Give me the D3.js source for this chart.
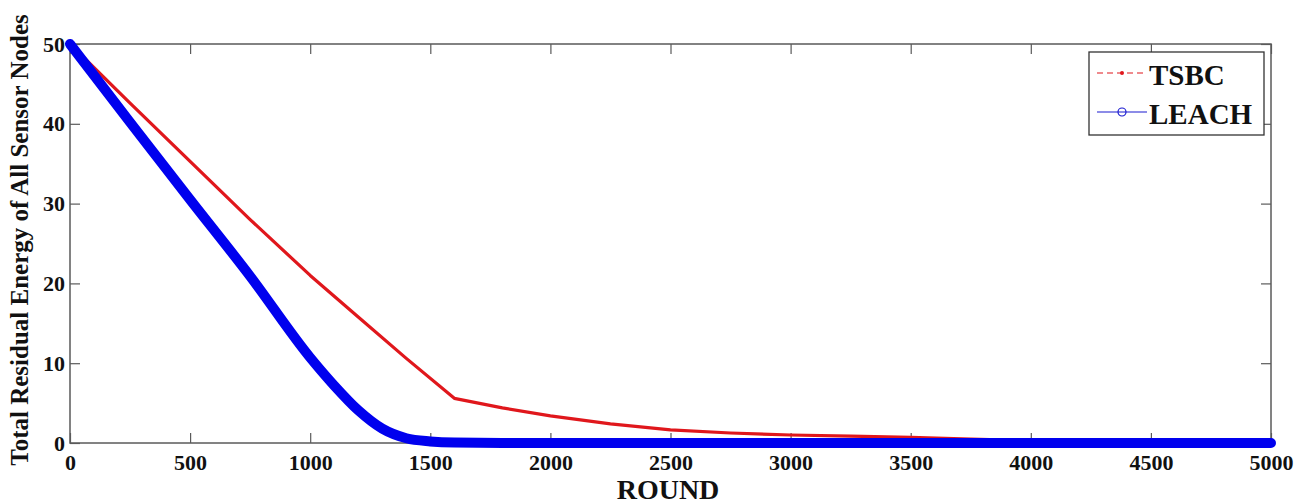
<!DOCTYPE html>
<html>
<head>
<meta charset="utf-8">
<script src="https://cdn.jsdelivr.net/npm/d3@7"></script>
<style>
  body { margin: 0; background: #fff; }
  svg { display: block; font-family: "Liberation Serif", "Times New Roman", serif; font-weight: bold; }
</style>
</head>
<body>
<svg id="chart" width="1302" height="504"></svg>
<script>
// data
const tsbcRounds = [0, 250, 500, 750, 1000, 1200, 1400, 1600, 1800, 2000, 2250, 2500, 2750, 3000, 3250, 3500, 3750, 4000, 4200, 4500, 5000];
const tsbcEnergy = [50, 42.6, 35.3, 28, 21, 15.8, 10.6, 5.6, 4.4, 3.4, 2.4, 1.65, 1.25, 1.0, 0.85, 0.7, 0.5, 0.3, 0.1, 0, 0];
const leachRounds = [0, 250, 500, 750, 1000, 1100, 1200, 1300, 1400, 1500, 1600, 1800, 5000];
const leachEnergy = [50, 40.2, 30.5, 20.9, 10.7, 7.2, 4.1, 1.8, 0.6, 0.2, 0.05, 0, 0];
const xTicks = [0, 500, 1000, 1500, 2000, 2500, 3000, 3500, 4000, 4500, 5000];
const yTicks = [0, 10, 20, 30, 40, 50];
const seriesNames = ['TSBC', 'LEACH'];

const width = 1302, height = 504;
const margin = { top: 44, right: 31, bottom: 61, left: 70 };
const svg = d3.select('#chart');

const x = d3.scaleLinear().domain([0, 5000]).range([margin.left, width - margin.right]);
const y = d3.scaleLinear().domain([0, 50]).range([height - margin.bottom, margin.top]);

const axisColor = '#5a5a5a';

// box
svg.append('rect')
  .attr('x', x(0)).attr('y', y(50))
  .attr('width', x(5000) - x(0)).attr('height', y(0) - y(50))
  .attr('fill', 'none').attr('stroke', axisColor).attr('stroke-width', 1.5);

// axes, ticks point inward like matlab
const gBottom = svg.append('g').attr('transform', `translate(0,${y(0)})`)
  .call(d3.axisBottom(x).tickValues(xTicks).tickFormat(d3.format('d')).tickSizeInner(-10).tickSizeOuter(0).tickPadding(11));
const gLeft = svg.append('g').attr('transform', `translate(${x(0)},0)`)
  .call(d3.axisLeft(y).tickValues(yTicks).tickFormat(d3.format('d')).tickSizeInner(-10).tickSizeOuter(0).tickPadding(5));
const gTop = svg.append('g').attr('transform', `translate(0,${y(50)})`)
  .call(d3.axisTop(x).tickValues(xTicks).tickSizeInner(-10).tickSizeOuter(0).tickFormat(''));
const gRight = svg.append('g').attr('transform', `translate(${x(5000)},0)`)
  .call(d3.axisRight(y).tickValues(yTicks).tickSizeInner(-10).tickSizeOuter(0).tickFormat(''));

[gBottom, gLeft, gTop, gRight].forEach(a => {
  a.select('.domain').remove();
  a.selectAll('line').attr('stroke', axisColor).attr('stroke-width', 1.2);
  a.selectAll('text').attr('fill', '#111').style('font-size', '22px')
    .style('font-family', '"Liberation Serif", "Times New Roman", serif').style('font-weight', 'bold');
});

// lines
const tsbc = tsbcRounds.map((r, i) => [r, tsbcEnergy[i]]);
const leach = leachRounds.map((r, i) => [r, leachEnergy[i]]);
const lineRed = d3.line().x(d => x(d[0])).y(d => y(d[1]));
const lineBlue = d3.line().x(d => x(d[0])).y(d => y(d[1])).curve(d3.curveMonotoneX);

svg.append('path').datum(tsbc)
  .attr('d', lineRed).attr('fill', 'none')
  .attr('stroke', '#e0171c').attr('stroke-width', 3.2).attr('stroke-linejoin', 'round');

svg.append('path').datum(leach)
  .attr('d', lineBlue).attr('fill', 'none')
  .attr('stroke', '#0000ee').attr('stroke-width', 10)
  .attr('stroke-linecap', 'round').attr('stroke-linejoin', 'round');

// axis titles
svg.append('text')
  .attr('x', 668).attr('y', 499)
  .attr('text-anchor', 'middle')
  .style('font-size', '28px').attr('fill', '#111')
  .text('ROUND');

svg.append('text')
  .attr('transform', 'translate(28,240) rotate(-90)')
  .attr('text-anchor', 'middle')
  .style('font-size', '25px').attr('fill', '#111')
  .text('Total Residual Energy of All Sensor Nodes');

// legend
const lg = svg.append('g');
lg.append('rect')
  .attr('x', 1089).attr('y', 52).attr('width', 175).attr('height', 83)
  .attr('fill', '#fff').attr('stroke', '#333').attr('stroke-width', 1.3);

const legendY = [73, 112];
const legendColor = ['#e0171c', '#1a1ad0'];
seriesNames.forEach((name, i) => {
  const ly = legendY[i];
  lg.append('line')
    .attr('x1', 1097).attr('x2', 1147).attr('y1', ly).attr('y2', ly)
    .attr('stroke', legendColor[i]).attr('stroke-width', 1.2)
    .attr('stroke-dasharray', i === 0 ? '6,4' : null);
  if (i === 0) {
    lg.append('circle').attr('cx', 1122).attr('cy', ly).attr('r', 2).attr('fill', legendColor[i]);
  } else {
    lg.append('circle').attr('cx', 1122).attr('cy', ly).attr('r', 4)
      .attr('fill', 'none').attr('stroke', legendColor[i]).attr('stroke-width', 1.2);
  }
  lg.append('text')
    .attr('x', 1149).attr('y', ly + 12)
    .style('font-size', '29px').attr('fill', '#111')
    .text(name);
});
</script>
</body>
</html>
